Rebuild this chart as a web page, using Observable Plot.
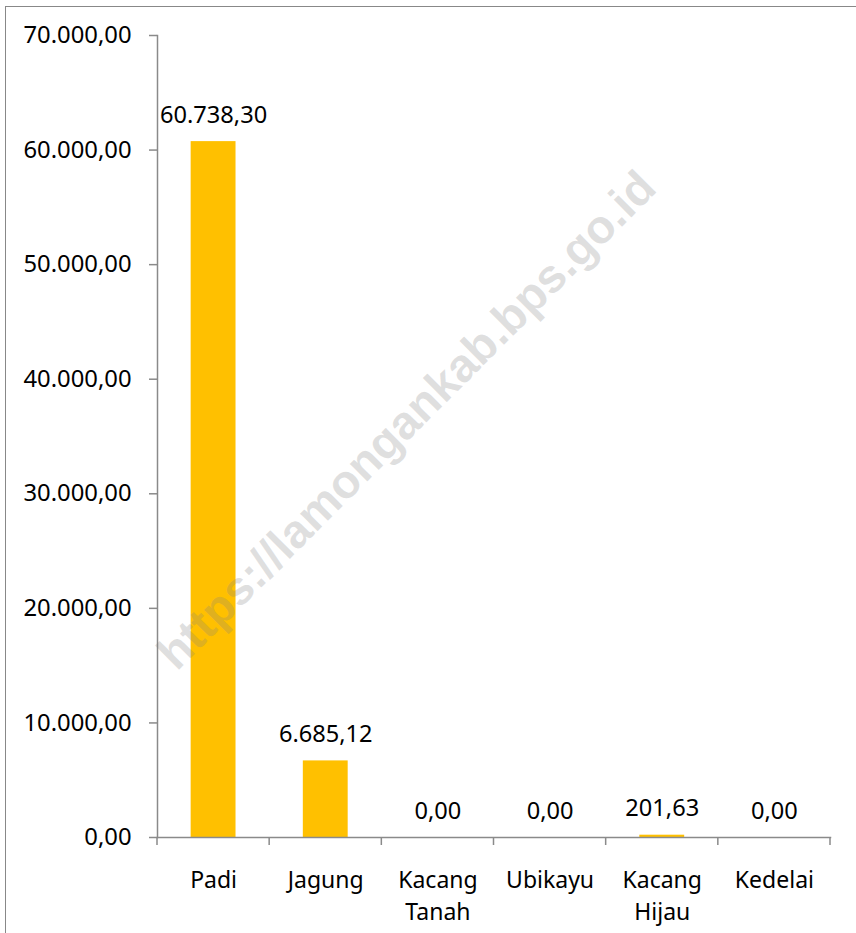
<!DOCTYPE html>
<html>
<head>
<meta charset="utf-8">
<script src="https://cdn.jsdelivr.net/npm/d3@7"></script>
<script src="https://cdn.jsdelivr.net/npm/@observablehq/plot@0.6"></script>
<style>
  html, body { margin: 0; padding: 0; background: #fff; overflow: hidden; }
  #wrap { position: relative; width: 856px; height: 933px; overflow: hidden; }
  #border { position: absolute; left: 4.5px; top: 5.5px; width: 1200px; height: 1200px;
            border: 1.4px solid #888; pointer-events: none; }
  svg { display: block; }
</style>
</head>
<body>
<div id="wrap"><div id="chart"></div><div id="border"></div></div>
<script>
const categories = ["Padi", "Jagung", "Kacang Tanah", "Ubikayu", "Kacang Hijau", "Kedelai"];
const values = [60738.30, 6685.12, 0, 0, 201.63, 0];
const yTicks = [0, 10000, 20000, 30000, 40000, 50000, 60000, 70000];
const categoryLabels = ["Padi", "Jagung", "Kacang\nTanah", "Ubikayu", "Kacang\nHijau", "Kedelai"];
const watermark = ["https://lamongankab.bps.go.id"];

const data = categories.map((c, i) => ({category: c, value: values[i]}));
const locale = d3.formatLocale({decimal: ",", thousands: ".", grouping: [3], currency: ["Rp", ""]});
const fmt = locale.format(",.2f");
const labelOf = new Map(categories.map((c, i) => [c, categoryLabels[i]]));

const FONT = "'Noto Sans', 'Open Sans', sans-serif";
const AXIS = "#8a8a8a";

function boundaryTicks(index, scales, values, dimensions) {
  const x = scales.x;
  const bw = typeof x.bandwidth === "function" ? x.bandwidth() : 0;
  const step = typeof x.step === "function" ? x.step() : (x(categories[1]) - x(categories[0]));
  const y0 = dimensions.height - dimensions.marginBottom;
  const pos = categories.map(c => x(c) + bw / 2 - step / 2);
  pos.push(x(categories[categories.length - 1]) + bw / 2 + step / 2);
  const g = d3.create("svg:g");
  g.selectAll("line").data(pos).join("line")
    .attr("x1", d => d).attr("x2", d => d)
    .attr("y1", y0).attr("y2", y0 + 8)
    .attr("stroke", AXIS).attr("stroke-width", 1.5);
  return g.node();
}

const chart = Plot.plot({
  width: 856,
  height: 933,
  marginLeft: 157,
  marginRight: 26,
  marginTop: 35,
  marginBottom: 96,
  style: {fontFamily: FONT, fontSize: "23px", color: "#000", background: "transparent"},
  x: {domain: categories, paddingInner: 0.6, paddingOuter: 0.3, round: false, label: null},
  y: {domain: [0, 70000], label: null},
  marks: [
    Plot.barY(data, {x: "category", y: "value", fill: "#FFC000"}),
    Plot.frame({anchor: "left", stroke: AXIS, strokeWidth: 1.5}),
    Plot.frame({anchor: "bottom", stroke: AXIS, strokeWidth: 1.5}),
    Plot.axisY({ticks: yTicks, tickSize: 8, tickPadding: 18, tickFormat: fmt, stroke: AXIS,
                strokeWidth: 1.5, fontSize: 23.8, fill: "#000", label: null}),
    Plot.axisX({tickSize: 0, tickPadding: 28, tickFormat: d => labelOf.get(d), fontSize: 23,
                fill: "#000", lineHeight: 1.39, label: null}),
    boundaryTicks,
    Plot.text(data, {x: "category", y: "value", text: d => fmt(d.value), lineAnchor: "bottom",
                     dy: -19, fontSize: 23.6, fill: "#000"}),
    Plot.text(watermark, {text: d => d, frameAnchor: "middle", dx: -87, dy: -16, rotate: -45,
                          fontSize: 47, fontWeight: "bold", fontFamily: "'Liberation Sans', Arial, sans-serif",
                          fill: "rgb(128,128,128)", fillOpacity: 0.25})
  ]
});
document.getElementById("chart").appendChild(chart);
</script>
</body>
</html>
